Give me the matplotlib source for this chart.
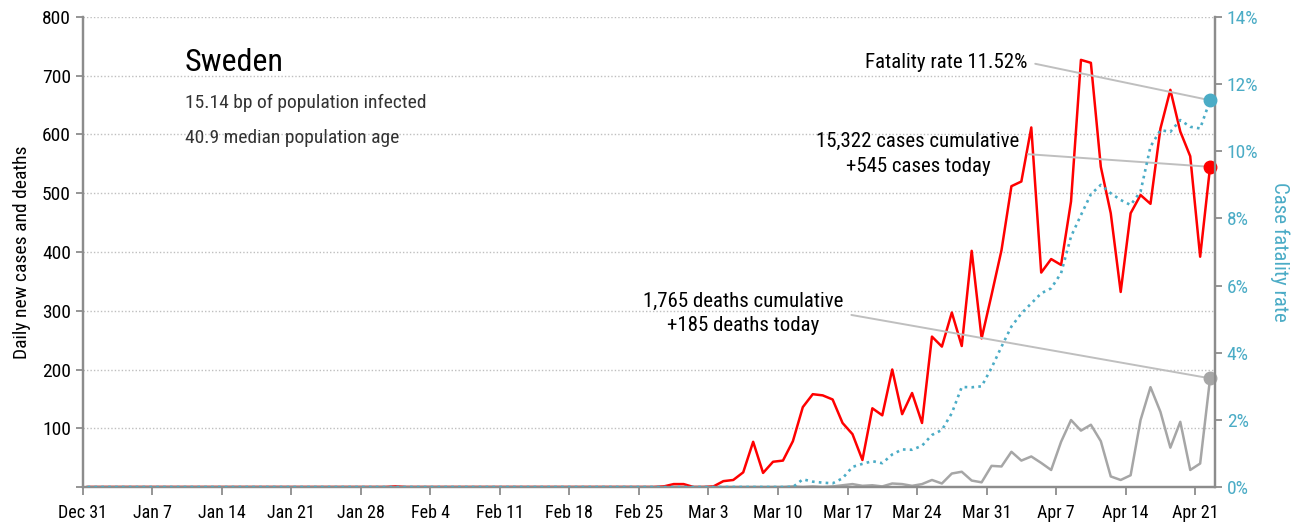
import numpy as np
import pandas as pd
import matplotlib
matplotlib.use("Agg")
from matplotlib import pyplot as plt
from matplotlib.ticker import FuncFormatter

plt.rcParams['font.family'] = ['Roboto Condensed', 'IBM Plex Sans Condensed', 'DejaVu Sans']

# daily data, Dec 31 2019 .. Apr 22 2020
start = "2019-12-31"
cases = [
    0, 0, 0, 0, 0, 0, 0, 0, 0, 0, 0, 0, 0, 0, 0, 0, 0, 0, 0, 0,
    0, 0, 0, 0, 0, 0, 0, 0, 0, 0, 0, 1, 0, 0, 0, 0, 0, 0, 0, 0,
    0, 0, 0, 0, 0, 0, 0, 0, 0, 0, 0, 0, 0, 0, 0, 0, 0, 0, 1, 5,
    5, 0, 0, 1, 10, 12, 25, 77, 24, 43, 45, 78, 136, 158, 156, 149, 109, 90, 46, 134,
    122, 200, 124, 160, 109, 256, 239, 297, 240, 402, 253, 327, 403, 512, 520, 612, 365, 388, 378, 486,
    727, 722, 545, 466, 332, 466, 497, 482, 610, 676, 605, 563, 392, 545,
]
deaths = [
    0, 0, 0, 0, 0, 0, 0, 0, 0, 0, 0, 0, 0, 0, 0, 0, 0, 0, 0, 0,
    0, 0, 0, 0, 0, 0, 0, 0, 0, 0, 0, 0, 0, 0, 0, 0, 0, 0, 0, 0,
    0, 0, 0, 0, 0, 0, 0, 0, 0, 0, 0, 0, 0, 0, 0, 0, 0, 0, 0, 0,
    0, 0, 0, 0, 0, 0, 0, 0, 0, 0, 0, 1, 0, 1, 0, 1, 3, 5, 2, 3,
    1, 6, 5, 2, 5, 12, 6, 23, 26, 11, 8, 36, 35, 60, 45, 52, 41, 29, 77, 114,
    96, 106, 78, 18, 12, 20, 114, 170, 128, 67, 111, 29, 40, 185,
]
cfr = [
    0, 0, 0, 0, 0, 0, 0, 0, 0, 0, 0, 0, 0, 0, 0, 0, 0, 0, 0, 0,
    0, 0, 0, 0, 0, 0, 0, 0, 0, 0, 0, 0, 0, 0, 0, 0, 0, 0, 0, 0,
    0, 0, 0, 0, 0, 0, 0, 0, 0, 0, 0, 0, 0, 0, 0, 0, 0, 0, 0, 0,
    0, 0, 0, 0, 0, 0, 0, 0, 0, 0, 0, 0, 0.23, 0.16, 0.13, 0.11, 0.26, 0.60, 0.69, 0.77,
    0.71, 0.97, 1.12, 1.11, 1.23, 1.55, 1.70, 2.20, 2.98, 2.97, 3.00, 3.55, 4.18, 4.78, 5.17, 5.47, 5.77, 5.92, 6.37, 7.46,
    8.10, 8.72, 9.00, 8.75, 8.55, 8.40, 8.80, 10.14, 10.63, 10.58, 10.93, 10.73, 10.68, 11.52,
]
country = "Sweden"
subtitle = ["15.14 bp of population infected", "40.9 median population age"]
total_cases = 15322
total_deaths = 1765

dates = pd.date_range(start, periods=len(cases), freq="D")
x = np.arange(len(dates))

RED = "#FF0000"
GRAY = "#A6A6A6"
BLUE = "#4BACC6"
AXC = "#8C8C8C"
LEAD = "#BFBFBF"

fig = plt.figure(figsize=(13.14, 5.26), dpi=100)
ax = fig.add_axes([0.0629, 0.0741, 0.8618, 0.8936])
ax2 = ax.twinx()

ax.plot(x, cases, color=RED, lw=1.8, zorder=3)
ax.plot(x, deaths, color=GRAY, lw=1.8, zorder=2)
ax2.plot(x, cfr, color=BLUE, lw=1.9, linestyle=(0, (1, 1.6)), zorder=3)

ax.plot(x[-1], cases[-1], "o", color=RED, ms=9, zorder=4, clip_on=False)
ax.plot(x[-1], deaths[-1], "o", color=GRAY, ms=9, zorder=4, clip_on=False)
ax2.plot(x[-1], cfr[-1], "o", color=BLUE, ms=9, zorder=4, clip_on=False)

ax.set_xlim(-0.5, len(x) - 0.5)
ax.set_ylim(0, 800)
ax2.set_ylim(0, 14)

# ticks sit between days (category style)
tick_pos = np.arange(0, len(x), 7) - 0.5
tick_lab = [f"{d.strftime('%b')} {d.day}" for d in dates[::7]]
ax.set_xticks(tick_pos)
ax.set_xticklabels(tick_lab, fontsize=13)

ax.set_yticks(np.arange(0, 801, 100))
ax.yaxis.set_major_formatter(FuncFormatter(lambda v, p: "" if v == 0 else f"{v:.0f}"))
ax.tick_params(axis="y", labelsize=14, color=AXC, length=5, width=1.3)
ax.tick_params(axis="x", color=AXC, length=6, width=1.3, pad=6)
ax.set_ylabel("Daily new cases and deaths", fontsize=14, labelpad=8)

ax2.set_yticks(np.arange(0, 15, 2))
ax2.yaxis.set_major_formatter(FuncFormatter(lambda v, p: f"{v:.0f}%"))
ax2.tick_params(axis="y", labelsize=14, colors=BLUE, length=5, width=1.3)
ax2.tick_params(axis="y", color=AXC)
ax2.set_ylabel("Case fatality rate", fontsize=15, color=BLUE, rotation=270, labelpad=22)

for v in range(100, 801, 100):
    ax.axhline(v, color=LEAD, lw=1, linestyle=(0, (1, 1.5)), zorder=1)

for a in (ax, ax2):
    a.spines["top"].set_visible(False)
    for s in ("left", "right", "bottom"):
        a.spines[s].set_color(AXC)
        a.spines[s].set_linewidth(1.6)

# title block
fig.text(0.1408, 0.882, country, fontsize=23, va="center", ha="left")
fig.text(0.1408, 0.804, subtitle[0], fontsize=14, va="center", ha="left", color="#333333")
fig.text(0.1408, 0.738, subtitle[1], fontsize=14, va="center", ha="left", color="#333333")

# call-outs with leader lines to the last points
arrow = dict(arrowstyle="-", color=LEAD, lw=1.4, relpos=(1, 0.5), shrinkA=4, shrinkB=0)
ax2.annotate(f"Fatality rate {cfr[-1]:.2f}%", xy=(x[-1], cfr[-1]),
             xytext=(0.7816, 0.882), textcoords="figure fraction",
             ha="right", va="center", fontsize=15, arrowprops=arrow)
ax.annotate(f"{total_cases:,} cases cumulative\n+{cases[-1]} cases today", xy=(x[-1], cases[-1]),
            xytext=(0.6986, 0.708), textcoords="figure fraction",
            ha="center", va="center", fontsize=15, linespacing=1.4, arrowprops=arrow)
ax.annotate(f"{total_deaths:,} deaths cumulative\n+{deaths[-1]} deaths today", xy=(x[-1], deaths[-1]),
            xytext=(0.5654, 0.404), textcoords="figure fraction",
            ha="center", va="center", fontsize=15, linespacing=1.4, arrowprops=arrow)

fig.savefig("out.png", dpi=100)
